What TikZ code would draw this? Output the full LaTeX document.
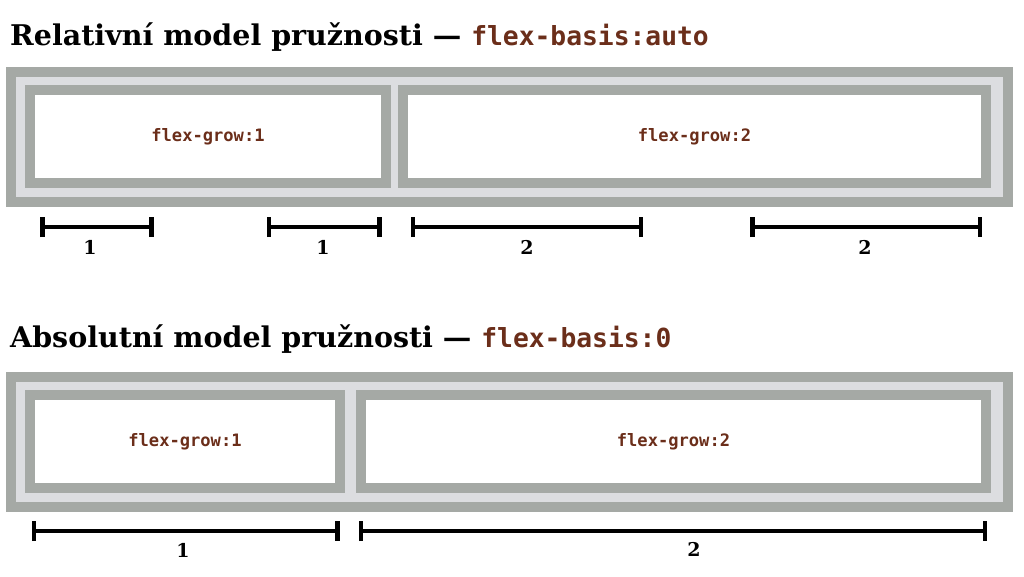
\documentclass[tikz,border=0pt]{standalone}
\usepackage{fontspec}
\setmainfont{DejaVu Serif}
\newfontfamily\codefont{DejaVu Sans Mono}
\usetikzlibrary{arrows.meta}
\definecolor{outergray}{HTML}{A5A9A5}
\definecolor{lightgray}{HTML}{DCDDE0}
\definecolor{codebrown}{HTML}{6B2E1A}
\tikzset{
  container/.style={draw=outergray, fill=lightgray, line width=10pt, inner sep=0pt, minimum width=997pt, minimum height=130pt},
  flexitem/.style={draw=outergray, fill=white, line width=10pt, inner sep=0pt, minimum height=93pt, font=\codefont\bfseries\fontsize{17.1}{19}\selectfont, text=codebrown},
  titletext/.style={anchor=base west, inner sep=0pt, font=\bfseries\fontsize{28.5}{32}\selectfont},
  measure/.style={line width=4.5pt, {Bar[width=20pt]}-{Bar[width=20pt]}},
  measurelabel/.style={inner sep=0pt, font=\bfseries\fontsize{19}{22}\selectfont}
}
\newcommand{\codetxt}[1]{{\codefont\bfseries\fontsize{26.3}{30}\selectfont\color{codebrown}#1}}
\begin{document}
\begin{tikzpicture}[x=1pt,y=-1pt]
\useasboundingbox[fill=white] (0,0) rectangle (1024,576);
% ---------- top panel ----------
\node[titletext] (t1) at (10,45) {Relativní model pružnosti — \codetxt{flex-basis:auto}};
\node[container] (c1) at (509.5,137) {};
\node[flexitem, minimum width=356pt] (b11) at (208,136.5) {flex-grow:1};
\node[flexitem, minimum width=583pt] (b12) at (694.5,136.5) {flex-grow:2};
\coordinate (m1a) at (40,227); \coordinate (m1b) at (153.5,227);
\coordinate (m2a) at (266.5,227); \coordinate (m2b) at (381.5,227);
\coordinate (m3a) at (410.5,227); \coordinate (m3b) at (643,227);
\coordinate (m4a) at (750,227); \coordinate (m4b) at (982,227);
\draw[measure] (m1a) -- (m1b);
\draw[measure] (m2a) -- (m2b);
\draw[measure] (m3a) -- (m3b);
\draw[measure] (m4a) -- (m4b);
\node[measurelabel] (l1) at (90,247) {1};
\node[measurelabel] (l2) at (323,247) {1};
\node[measurelabel] (l3) at (527,247) {2};
\node[measurelabel] (l4) at (865,247) {2};
% ---------- bottom panel ----------
\node[titletext] (t2) at (10,347) {Absolutní model pružnosti — \codetxt{flex-basis:0}};
\node[container] (c2) at (509.5,442) {};
\node[flexitem, minimum width=310pt] (b21) at (185,441.5) {flex-grow:1};
\node[flexitem, minimum width=625pt] (b22) at (673.5,441.5) {flex-grow:2};
\coordinate (n1a) at (31.5,531); \coordinate (n1b) at (339.5,531);
\coordinate (n2a) at (358.5,531); \coordinate (n2b) at (987,531);
\draw[measure] (n1a) -- (n1b);
\draw[measure] (n2a) -- (n2b);
\node[measurelabel] (k1) at (183,550) {1};
\node[measurelabel] (k2) at (694,549) {2};
\end{tikzpicture}
\end{document}
